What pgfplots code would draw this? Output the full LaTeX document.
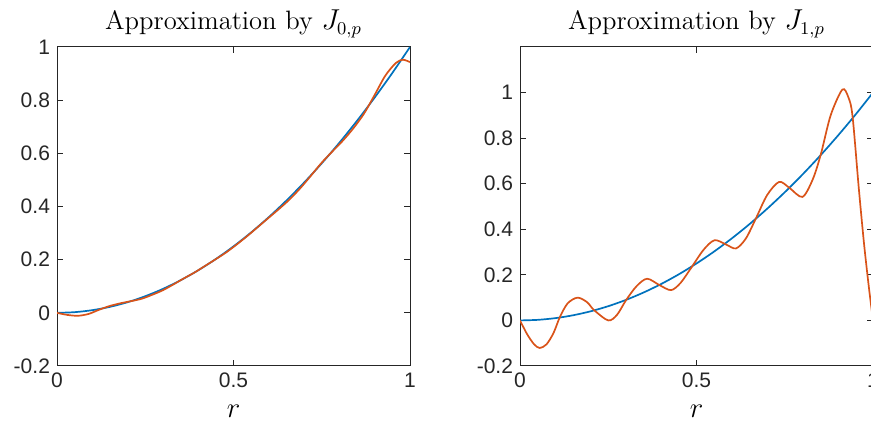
\documentclass[border=0pt]{standalone}
\usepackage{fontspec}
\usepackage{pgfplots}
\pgfplotsset{compat=1.18}
\newfontfamily\helv{Liberation Sans}
\definecolor{mblue}{rgb}{0,0.447,0.741}
\definecolor{morange}{rgb}{0.85,0.325,0.098}
\definecolor{maxis}{rgb}{0.15,0.15,0.15}
\pgfplotsset{
  mstyle/.style={
    width=176.5pt, height=159.5pt, scale only axis,
    xmin=0, xmax=1,
    xtick={0,0.5,1},
    tick align=inside,
    major tick length=3pt,
    axis line style={maxis, line width=0.5pt},
    every tick/.style={maxis, line width=0.5pt},
    ticklabel style={font=\helv\fontsize{10.5}{12}\selectfont, text=maxis},
    /pgf/number format/assume math mode=true,
    title style={at={(0.5,1)}, anchor=base, yshift=2.5pt, font=\fontsize{13.3}{15}\selectfont},
    xlabel style={at={(0.5,0)}, anchor=base, yshift=-26pt, font=\fontsize{13.3}{15}\selectfont},
    xlabel={$r$},
  }
}
\begin{document}
\begin{tikzpicture}
\begin{axis}[mstyle, at={(28.5pt,28pt)}, anchor=south west,
  ymin=-0.2, ymax=1, ytick={-0.2,0,0.2,0.4,0.6,0.8,1},
  title={Approximation by $J_{0,p}$}]
\addplot[mblue, line width=0.85pt, smooth] coordinates {
(0,0) (0.05,0.0025) (0.1,0.01) (0.15,0.0225) (0.2,0.04) (0.25,0.0625) (0.3,0.09) (0.35,0.1225) (0.4,0.16) (0.45,0.2025) (0.5,0.25) (0.55,0.3025) (0.6,0.36) (0.65,0.4225) (0.7,0.49) (0.75,0.5625) (0.8,0.64) (0.85,0.7225) (0.9,0.81) (0.95,0.9025) (1,1)};
\addplot[morange, line width=0.85pt, smooth] coordinates {
(0,0) (0.03,-0.008) (0.06,-0.011) (0.09,-0.004) (0.12,0.012) (0.15,0.026) (0.18,0.036) (0.21,0.044) (0.24,0.053) (0.27,0.068) (0.30,0.085) (0.33,0.107) (0.36,0.130) (0.39,0.152) (0.42,0.177) (0.45,0.202) (0.48,0.228) (0.51,0.258) (0.54,0.290) (0.57,0.324) (0.60,0.358) (0.63,0.392) (0.66,0.428) (0.69,0.470) (0.72,0.517) (0.75,0.565) (0.78,0.607) (0.81,0.648) (0.84,0.695) (0.87,0.750) (0.90,0.820) (0.93,0.892) (0.96,0.940) (0.98,0.952) (1.0,0.943)};
\end{axis}
\begin{axis}[mstyle, at={(260pt,28pt)}, anchor=south west,
  ymin=-0.2, ymax=1.2, ytick={-0.2,0,0.2,0.4,0.6,0.8,1},
  title={Approximation by $J_{1,p}$}]
\addplot[mblue, line width=0.85pt, smooth] coordinates {
(0,0) (0.05,0.0025) (0.1,0.01) (0.15,0.0225) (0.2,0.04) (0.25,0.0625) (0.3,0.09) (0.35,0.1225) (0.4,0.16) (0.45,0.2025) (0.5,0.25) (0.55,0.3025) (0.6,0.36) (0.65,0.4225) (0.7,0.49) (0.75,0.5625) (0.8,0.64) (0.85,0.7225) (0.9,0.81) (0.95,0.9025) (1,1)};
\addplot[morange, line width=0.85pt, smooth] coordinates {
(0,0) (0.02,-0.06) (0.04,-0.105) (0.056,-0.121) (0.075,-0.105) (0.095,-0.055) (0.113,0.015) (0.135,0.075) (0.163,0.100) (0.19,0.08) (0.21,0.045) (0.25,0.0) (0.275,0.025) (0.30,0.088) (0.33,0.15) (0.36,0.183) (0.395,0.155) (0.428,0.133) (0.455,0.165) (0.485,0.231) (0.52,0.31) (0.551,0.352) (0.584,0.333) (0.612,0.316) (0.64,0.36) (0.669,0.45) (0.70,0.55) (0.734,0.608) (0.763,0.582) (0.80,0.542) (0.829,0.618) (0.852,0.728) (0.88,0.90) (0.913,1.013) (0.93,0.98) (0.942,0.896) (0.96,0.575) (0.975,0.33) (0.989,0.136) (1.0,0.0)};
\end{axis}
\pgfresetboundingbox
\useasboundingbox (0,0) rectangle (435.5pt,211pt);
\end{tikzpicture}
\end{document}
